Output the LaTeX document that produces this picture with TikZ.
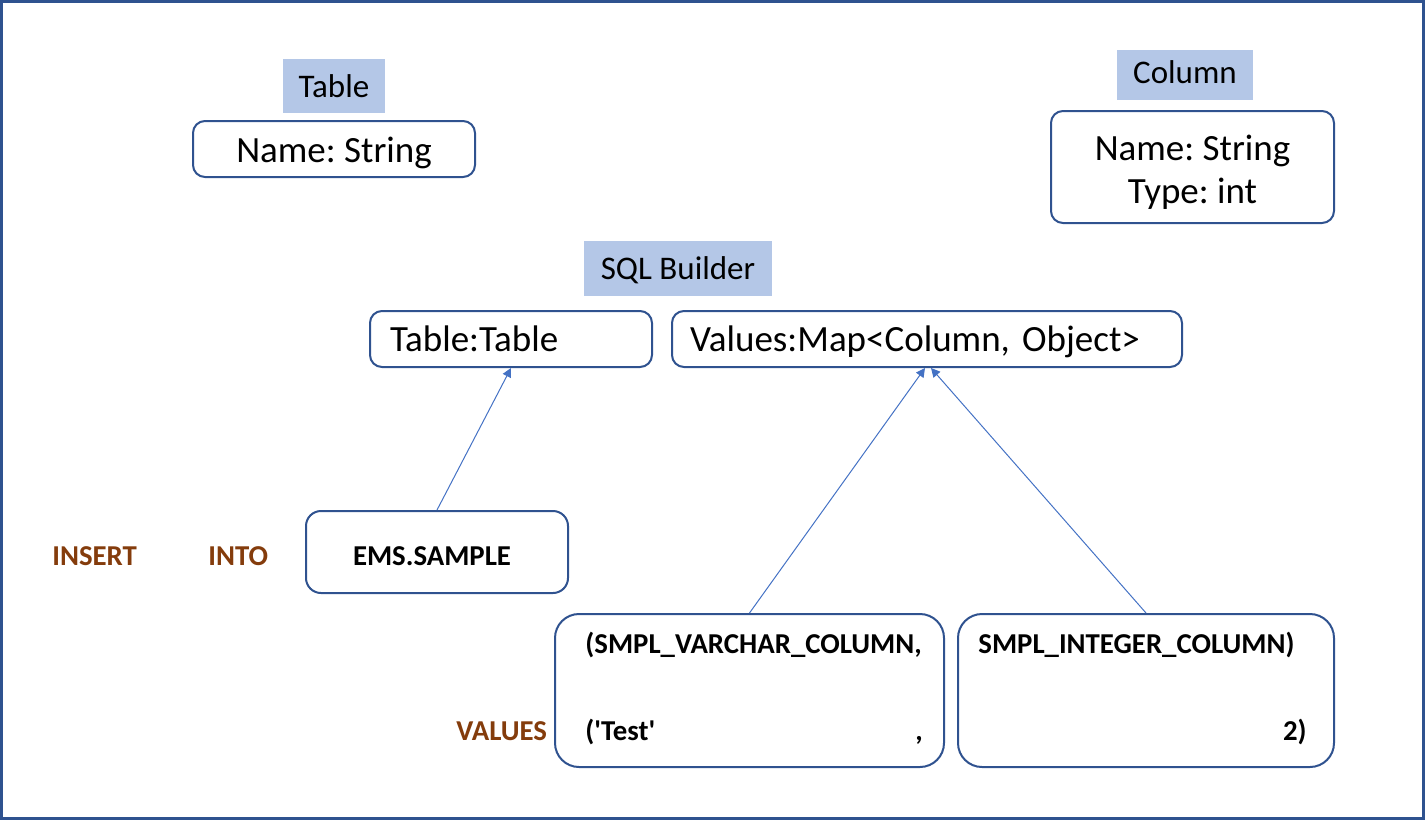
\documentclass[tikz,border=0pt]{standalone}
\usepackage{fontspec}
\setmainfont{Carlito}
\usetikzlibrary{arrows.meta}
\definecolor{quadro}{HTML}{2F528F}
\definecolor{titulo}{HTML}{B4C7E7}
\definecolor{seta}{HTML}{4472C4}
\definecolor{palavra}{HTML}{843C0C}
\frenchspacing
\begin{document}
\begin{tikzpicture}[x=0.5pt,y=-0.5pt]
\tikzset{
  caixa/.style={draw=quadro,line width=1pt,rounded corners=6pt,inner ysep=0pt,font=\fontsize{18.5}{21.5}\selectfont},
  rotulo/.style={fill=titulo,inner sep=0pt,font=\fontsize{16.5}{19}\selectfont},
  codigo/.style={inner sep=0pt,font=\fontsize{14.4}{17}\selectfont\bfseries},
  chave/.style={codigo,text=palavra},
  ligacao/.style={draw=seta,line width=0.5pt,-{Triangle[length=4.5pt,width=4.5pt]}}
}
% moldura
\useasboundingbox (0,0) rectangle (1425,820);
\draw[quadro,line width=1.5pt] (1.5,1.5) rectangle (1423.5,818.5);

% classe Table
\node[rotulo,minimum width=51pt,text height=19pt,text depth=8pt] (tabT) at (334,86) {Table};
\node[caixa,minimum width=141pt,text height=20.5pt,text depth=7.5pt] (tabN) at (334,149) {Name: String};

% classe Column
\node[rotulo,minimum width=68pt,text height=16.5pt,text depth=8.5pt] (colT) at (1185,75) {Column};
\node[caixa,minimum width=141.5pt,minimum height=56pt,align=center] (colN) at (1192.5,167) {};
\node[caixa,draw=none,align=center,yshift=-2.5pt] (colTxt) at (colN) {Name: String\\Type: int};

% SQL Builder
\node[rotulo,minimum width=94pt,text height=19pt,text depth=8.5pt] (sqlT) at (678,268.5) {SQL Builder};
\node[caixa,text width=121pt,inner xsep=10pt,align=left,text height=20pt,text depth=8pt] (sqlTab) at (511,339) {Table:Table};
\node[caixa,text width=237pt,inner xsep=9pt,align=left,text height=20pt,text depth=8pt] (sqlVal) at (927,339) {Values:Map<Column, Object>};

% instrução INSERT
\node[chave,anchor=base west] (kwIns) at (52,565) {INSERT};
\node[chave,anchor=base west] (kwInto) at (208,565) {INTO};
\node[caixa,codigo,inner xsep=23.5pt,text width=84pt,align=left,rounded corners=7.5pt,text height=27pt,text depth=14pt] (ems) at (437,552) {EMS.SAMPLE};
\node[chave,anchor=base west] (kwVal) at (456,740) {VALUES};

% colunas e valores
\node[caixa,rounded corners=12pt,minimum width=194.5pt,minimum height=76.5pt] (colVar) at (749.5,690.5) {};
\node[caixa,rounded corners=12pt,minimum width=188pt,minimum height=76.5pt] (colInt) at (1146,690.5) {};
\node[codigo,anchor=base west] (varNome) at (585,653) {(SMPL\_VARCHAR\_COLUMN,};
\node[codigo,anchor=base west] (varValor) at (585,740) {(\textquotesingle Test\textquotesingle};
\node[codigo,anchor=base west] (varVirg) at (915,740) {,};
\node[codigo,anchor=base west] (intNome) at (978,653) {SMPL\_INTEGER\_COLUMN)};
\node[codigo,anchor=base east] (intValor) at (1307,740) {2)};

% setas
\draw[ligacao] (ems.north) -- (sqlTab.south);
\draw[ligacao] (colVar.north) -- ([xshift=-1pt]sqlVal.south);
\draw[ligacao] (colInt.north) -- ([xshift=2pt]sqlVal.south);
\end{tikzpicture}
\end{document}
